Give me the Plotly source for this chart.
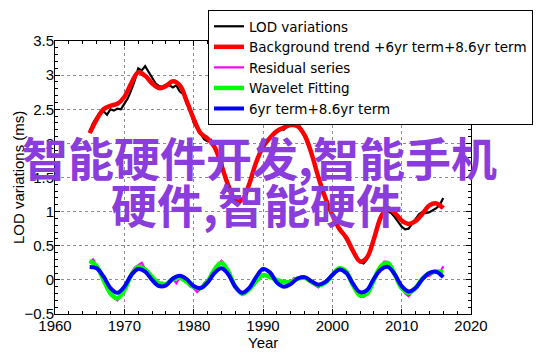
import plotly.graph_objects as go

# ---------------- data ----------------
years = list(range(1965, 2017))  # yearly grid for the smooth curves

trend_total = [2.15, 2.35, 2.50, 2.55, 2.58, 2.68, 2.88, 3.04, 2.99, 2.88,
               2.81, 2.84, 2.91, 2.85, 2.62, 2.36, 2.15, 2.07, 1.95, 1.68,
               1.38, 1.16, 1.17, 1.40, 1.72, 1.95, 2.08, 2.18, 2.23, 2.27,
               2.25, 2.12, 1.85, 1.50, 1.20, 0.95, 0.75, 0.62, 0.42, 0.27,
               0.33, 0.60, 0.92, 1.05, 0.98, 0.87, 0.82, 0.86, 0.97, 1.09,
               1.12, 1.05]

wavelet_fit = [0.28, 0.20, 0.00, -0.20, -0.27, -0.15, 0.07, 0.19, 0.15, 0.04,
               -0.05, -0.06, 0.01, 0.03, -0.03, -0.10, -0.12, -0.03, 0.15, 0.25,
               0.12, -0.10, -0.20, -0.14, -0.02, 0.07, 0.04, 0.00, -0.03, -0.03,
               0.02, 0.03, -0.03, -0.08, -0.04, 0.07, 0.17, 0.12, -0.08, -0.23,
               -0.20, 0.00, 0.20, 0.25, 0.08, -0.12, -0.19, -0.12, 0.02, 0.10,
               0.12, 0.12]

terms_6_86 = [0.19, 0.17, 0.05, -0.12, -0.19, -0.10, 0.07, 0.16, 0.12, 0.00,
              -0.09, -0.08, 0.02, 0.06, 0.01, -0.09, -0.12, -0.04, 0.10, 0.17,
              0.08, -0.10, -0.19, -0.12, 0.04, 0.16, 0.11, -0.04, -0.10, -0.06,
              0.02, 0.04, -0.02, -0.07, -0.03, 0.07, 0.15, 0.10, -0.06, -0.18,
              -0.15, 0.02, 0.15, 0.19, 0.08, -0.09, -0.17, -0.12, 0.01, 0.10,
              0.12, 0.04]

half_years = [1965 + 0.5 * i for i in range(103)]  # half-year grid for noisy series

lod = [2.18, 2.30, 2.38, 2.45, 2.47, 2.42, 2.50, 2.48, 2.51, 2.50,
       2.58, 2.66, 2.78, 2.92, 3.10, 3.07, 3.13, 3.05, 2.95, 2.88,
       2.84, 2.83, 2.86, 2.85, 2.82, 2.85, 2.76, 2.72, 2.58, 2.48,
       2.30, 2.22, 2.12, 2.06, 2.03, 2.05, 1.96, 1.85, 1.72, 1.55,
       1.40, 1.28, 1.18, 1.12, 1.18, 1.28, 1.42, 1.58, 1.72, 1.85,
       1.95, 2.00, 2.08, 2.12, 2.18, 2.22, 2.20, 2.25, 2.28, 2.27,
       2.29, 2.22, 2.10, 1.98, 1.85, 1.68, 1.50, 1.35, 1.20, 1.05,
       0.93, 0.85, 0.74, 0.68, 0.60, 0.50, 0.40, 0.32, 0.26, 0.24,
       0.30, 0.45, 0.62, 0.80, 0.95, 1.02, 1.00, 0.98, 0.92, 0.85,
       0.78, 0.74, 0.75, 0.82, 0.90, 0.96, 1.00, 0.98, 0.99, 1.02,
       1.05, 1.10, 1.20]

residual = [0.26, 0.30, 0.20, 0.14, 0.02, -0.08, -0.20, -0.26, -0.30, -0.22,
            -0.15, -0.02, 0.10, 0.18, 0.22, 0.25, 0.16, 0.12, 0.04, -0.02,
            -0.06, -0.04, -0.08, -0.02, 0.02, -0.05, 0.04, 0.02, -0.04, -0.10,
            -0.12, -0.18, -0.12, -0.05, 0.00, 0.08, 0.15, 0.22, 0.28, 0.22,
            0.12, 0.02, -0.10, -0.16, -0.22, -0.18, -0.13, -0.08, -0.02, 0.04,
            0.07, 0.05, 0.04, 0.03, 0.00, -0.02, -0.03, -0.02, -0.03, 0.03,
            0.02, 0.05, 0.03, -0.01, -0.03, -0.08, -0.11, -0.06, -0.04, 0.02,
            0.07, 0.12, 0.17, 0.15, 0.12, 0.02, -0.08, -0.16, -0.23, -0.25,
            -0.20, -0.10, 0.00, 0.12, 0.20, 0.27, 0.26, 0.18, 0.08, -0.03,
            -0.12, -0.20, -0.24, -0.18, -0.10, -0.06, 0.02, 0.05, 0.06, 0.10,
            0.12, 0.10, 0.20]

series_names = ["LOD variations", "Background trend +6yr term+8.6yr term",
                "Residual series", "Wavelet Fitting", "6yr term+8.6yr term"]
x_ticks = [1960, 1970, 1980, 1990, 2000, 2010, 2020]
y_ticks = [-0.5, 0, 0.5, 1, 1.5, 2, 2.5, 3, 3.5]
x_title = "Year"
y_title = "LOD variations (ms)"
overlay_lines = ["智能硬件开发,智能手机", "硬件,智能硬件"]

assert len(lod) == len(half_years) == len(residual)
assert len(trend_total) == len(years) == len(wavelet_fit) == len(terms_6_86)

# ---------------- figure ----------------
FONT = "Liberation Sans, Arial, Helvetica, sans-serif"
W, H = 542, 356
OFF = 8  # page body margin in the browser
# plot area in page pixels
PL, PR, PT, PB = 55, 471, 41, 314
ML, MR, MT, MB = PL - OFF, W - (PR - OFF), PT - OFF, H - (PB - OFF)


def paper_x(px):
    return (px - PL) / (PR - PL)


def paper_y(py):
    return (PB - py) / (PB - PT)


fig = go.Figure()
fig.add_trace(go.Scatter(x=half_years, y=lod, mode="lines", name=series_names[0],
                         line=dict(color="#000000", width=2.2)))
fig.add_trace(go.Scatter(x=years, y=trend_total, mode="lines", name=series_names[1],
                         line=dict(color="#ff0000", width=4.5, shape="spline", smoothing=1.0)))
fig.add_trace(go.Scatter(x=half_years, y=residual, mode="lines", name=series_names[2],
                         line=dict(color="#ff00ff", width=2.2)))
fig.add_trace(go.Scatter(x=years, y=wavelet_fit, mode="lines", name=series_names[3],
                         line=dict(color="#00ff00", width=4.5, shape="spline", smoothing=1.0)))
fig.add_trace(go.Scatter(x=years, y=terms_6_86, mode="lines", name=series_names[4],
                         line=dict(color="#0000ff", width=4, shape="spline", smoothing=1.0)))

axis_common = dict(showline=True, linecolor="black", linewidth=1, mirror="allticks",
                   ticks="inside", ticklen=5, tickcolor="black", automargin=False,
                   showgrid=True, gridcolor="rgba(0,0,0,0.45)", griddash="dot", gridwidth=1,
                   zeroline=False, tickfont=dict(family=FONT, size=15, color="black"))

fig.update_xaxes(range=[1960, 2020], tickvals=x_ticks, ticklabelstandoff=-2,
                 minor=dict(dtick=2, ticks="inside", ticklen=3, tickcolor="black", showgrid=False),
                 **axis_common)
fig.update_yaxes(range=[-0.5, 3.5], tickvals=y_ticks, ticklabelstandoff=-3,
                 minor=dict(dtick=0.1, ticks="inside", ticklen=3, tickcolor="black", showgrid=False),
                 **axis_common)

anns = [
    dict(text=x_title, x=paper_x(263), y=paper_y(342), xref="paper", yref="paper",
         xanchor="center", yanchor="middle", showarrow=False,
         font=dict(family=FONT, size=15, color="black")),
    dict(text=y_title, x=paper_x(18), y=paper_y(178), xref="paper", yref="paper",
         xanchor="center", yanchor="middle", showarrow=False, textangle=-90,
         font=dict(family=FONT, size=15, color="black")),
]
# overlay text placed by pixel position
for txt, cx, cy in [(overlay_lines[0], 259, 156), (overlay_lines[1], 256, 203)]:
    anns.append(dict(text=txt, x=paper_x(cx), y=paper_y(cy),
                     xref="paper", yref="paper", xanchor="center", yanchor="middle",
                     showarrow=False,
                     font=dict(family="Noto Sans CJK SC", size=46, color="#8a3ddc", weight="bold")))

fig.update_layout(
    width=W, height=H,
    margin=dict(l=ML, r=MR, t=MT, b=MB, autoexpand=False),
    paper_bgcolor="white", plot_bgcolor="white",
    showlegend=True,
    legend=dict(xref="container", yref="container", x=(208 - OFF) / W, y=1 - (10 - OFF) / H,
                xanchor="left", yanchor="top",
                bgcolor="white", bordercolor="black", borderwidth=1,
                font=dict(family="DejaVu Sans", size=13.5, color="black"),
                tracegroupgap=0, itemwidth=30),
    annotations=anns,
)

fig.write_html("out.html")
